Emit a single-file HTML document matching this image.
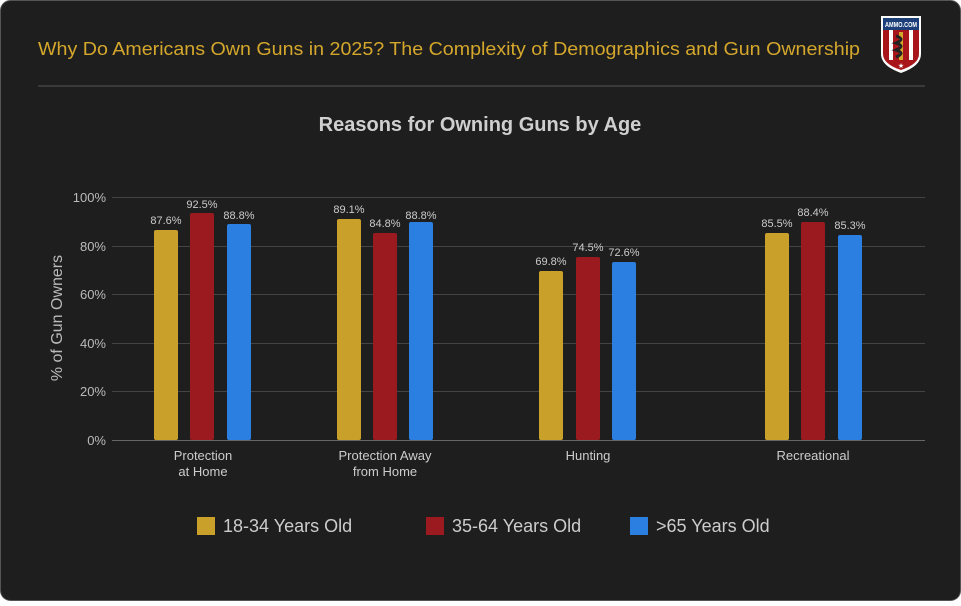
<!DOCTYPE html>
<html><head><meta charset="utf-8"><style>
html,body{margin:0;padding:0;background:#fff;}
body{width:961px;height:601px;overflow:hidden;}
</style></head><body>
<svg width="961" height="601" xmlns="http://www.w3.org/2000/svg" font-family="Liberation Sans, sans-serif">
<rect x="0.5" y="0.5" width="960" height="600" rx="10" fill="#1e1e1e" stroke="#555"/>
<text x="38" y="55" font-size="18.5" fill="#d4a72c" textLength="822" lengthAdjust="spacingAndGlyphs">Why Do Americans Own Guns in 2025? The Complexity of Demographics and Gun Ownership</text>
<line x1="38" y1="86" x2="925" y2="86" stroke="#555"/>
<g>
<path d="M881 16 H921 V54 Q921 66 901 73 Q881 66 881 54 Z" fill="#fff"/>
<path d="M883 18 H919 V54 Q919 64 901 70 Q883 64 883 54 Z" fill="#a8161c"/>
<rect x="883" y="18" width="36" height="12" fill="#1c3f7a"/>
<rect x="889" y="30" width="4" height="30" fill="#fff"/><rect x="909" y="30" width="4" height="30" fill="#fff"/>
<rect x="899" y="32" width="4" height="28" fill="#d4a72c"/>
<path d="M896 36 q10 3 0 7 q10 3 0 7 q10 3 0 7" stroke="#222" stroke-width="3" fill="none"/>
<text x="901" y="27" font-size="7" font-weight="bold" fill="#fff" text-anchor="middle" textLength="32" lengthAdjust="spacingAndGlyphs">AMMO.COM</text>
<text x="901" y="68" font-size="7" fill="#fff" text-anchor="middle">★</text>
</g>
<text x="480" y="131" font-size="20" font-weight="bold" fill="#cfcfcf" text-anchor="middle">Reasons for Owning Guns by Age</text>
<g stroke="#444" stroke-width="1">
<line x1="112" y1="197.5" x2="925" y2="197.5"/><line x1="112" y1="246.5" x2="925" y2="246.5"/>
<line x1="112" y1="294.5" x2="925" y2="294.5"/><line x1="112" y1="343.5" x2="925" y2="343.5"/>
<line x1="112" y1="391.5" x2="925" y2="391.5"/><line x1="112" y1="440.5" x2="925" y2="440.5" stroke="#666"/>
</g>
<g font-size="13" fill="#bbb" text-anchor="end">
<text x="106" y="202">100%</text><text x="106" y="251">80%</text><text x="106" y="299">60%</text>
<text x="106" y="348">40%</text><text x="106" y="396">20%</text><text x="106" y="445">0%</text>
</g>
<text transform="translate(62,318) rotate(-90)" font-size="16" fill="#bbb" text-anchor="middle">% of Gun Owners</text>
<g>
<rect x="154" y="230" width="24" height="210" rx="2" fill="#c9a02a"/>
<rect x="190" y="213" width="24" height="227" rx="2" fill="#9b1a1f"/>
<rect x="227" y="224" width="24" height="216" rx="2" fill="#2a7fe0"/>
<rect x="337" y="219" width="24" height="221" rx="2" fill="#c9a02a"/>
<rect x="373" y="233" width="24" height="207" rx="2" fill="#9b1a1f"/>
<rect x="409" y="222" width="24" height="218" rx="2" fill="#2a7fe0"/>
<rect x="539" y="271" width="24" height="169" rx="2" fill="#c9a02a"/>
<rect x="576" y="257" width="24" height="183" rx="2" fill="#9b1a1f"/>
<rect x="612" y="262" width="24" height="178" rx="2" fill="#2a7fe0"/>
<rect x="765" y="233" width="24" height="207" rx="2" fill="#c9a02a"/>
<rect x="801" y="222" width="24" height="218" rx="2" fill="#9b1a1f"/>
<rect x="838" y="235" width="24" height="205" rx="2" fill="#2a7fe0"/>
</g>
<g font-size="11" fill="#ccc" text-anchor="middle">
<text x="166" y="224">87.6%</text><text x="202" y="208">92.5%</text><text x="239" y="219">88.8%</text>
<text x="349" y="213">89.1%</text><text x="385" y="227">84.8%</text><text x="421" y="219">88.8%</text>
<text x="551" y="265">69.8%</text><text x="588" y="251">74.5%</text><text x="624" y="256">72.6%</text>
<text x="777" y="227">85.5%</text><text x="813" y="216">88.4%</text><text x="850" y="229">85.3%</text>
</g>
<g font-size="13" fill="#ccc" text-anchor="middle">
<text x="203" y="460">Protection</text><text x="203" y="476">at Home</text>
<text x="385" y="460">Protection Away</text><text x="385" y="476">from Home</text>
<text x="588" y="460">Hunting</text>
<text x="813" y="460">Recreational</text>
</g>
<g font-size="18" fill="#ccc">
<rect x="197" y="517" width="18" height="18" fill="#c9a02a"/><text x="223" y="532">18-34 Years Old</text>
<rect x="426" y="517" width="18" height="18" fill="#9b1a1f"/><text x="452" y="532">35-64 Years Old</text>
<rect x="630" y="517" width="18" height="18" fill="#2a7fe0"/><text x="656" y="532">&gt;65 Years Old</text>
</g>
</svg>
</body></html>
